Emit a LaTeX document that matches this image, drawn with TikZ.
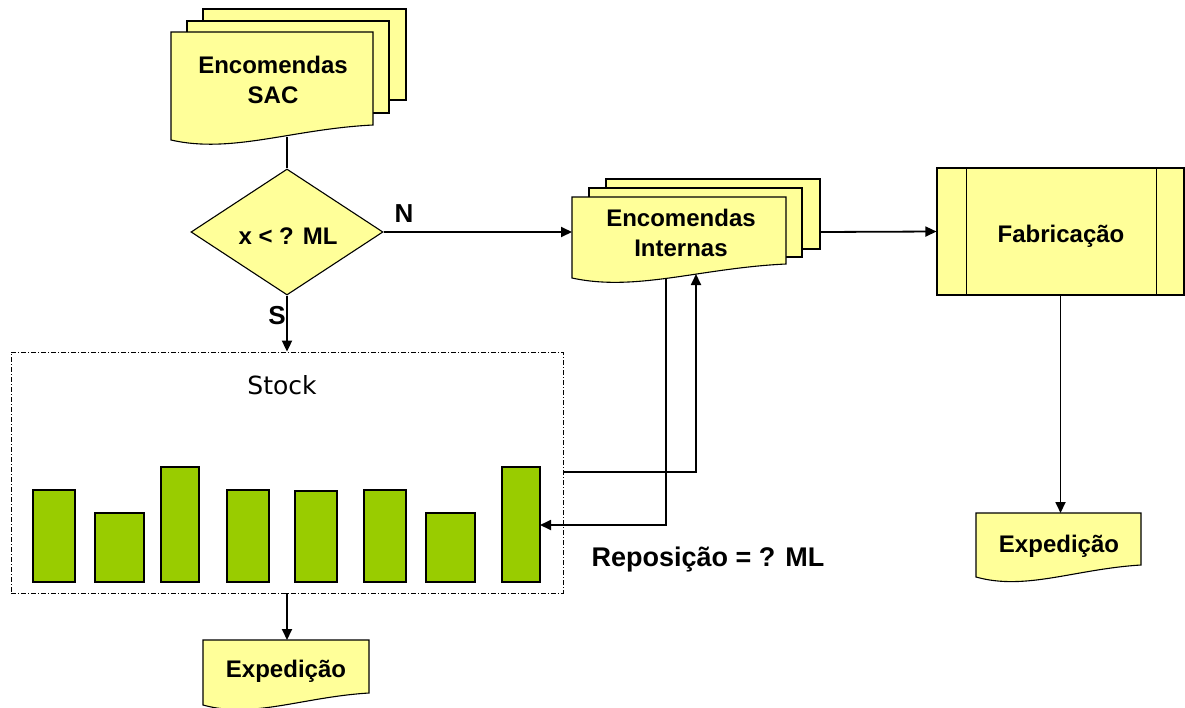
\documentclass[tikz,border=0pt]{standalone}
\usepackage{fontspec}
\setmainfont{Liberation Sans}
\newfontfamily\stockfont{DejaVu Sans}
\usetikzlibrary{arrows.meta,shapes.geometric}
\definecolor{docyellow}{RGB}{255,255,153}
\definecolor{bargreen}{RGB}{153,204,0}
\newcommand{\drawdoc}[5]{%
  \filldraw[docshape] (#1,#4) -- (#1,#2) -- (#3,#2) -- (#3,#5)
    .. controls ({#1+0.6*(#3-#1)},{#5+4}) and ({#1+0.3*(#3-#1)},{#4+14}) .. (#1,#4) -- cycle;
}
\begin{document}
\begin{tikzpicture}[x=1pt,y=-1pt,
  >={Triangle[length=11pt,width=10pt]},
  docshape/.style={fill=docyellow,draw=black,line width=1.1pt},
  conn/.style={line width=1.8pt},
  lbl/.style={font=\bfseries\fontsize{24}{30}\selectfont,align=center},
  bar/.style={fill=bargreen,draw=black,line width=1.2pt}]
\useasboundingbox (0,0) rectangle (1185,707);

% Encomendas SAC (multi-document)
\filldraw[docshape] (203,9) rectangle (406,100);
\filldraw[docshape] (187,21) rectangle (389,113);
\drawdoc{171}{32}{373}{140}{125}
\node[lbl] (sac) at (273,80) {Encomendas\\SAC};

% Encomendas Internas (multi-document)
\filldraw[docshape] (606,179) rectangle (820,249);
\filldraw[docshape] (589,188) rectangle (802,257);
\drawdoc{572}{197}{786}{278}{264}
\node[lbl] (internas) at (681,233) {Encomendas\\Internas};

% Expedicao documents
\drawdoc{976}{513}{1141}{577}{565}
\node[lbl] (exp1) at (1059,546) {Expedição};
\drawdoc{203}{640}{369}{705}{693}
\node[lbl] (exp2) at (286,671) {Expedição};

% Decision
\node[diamond,draw,fill=docyellow,line width=1.1pt,minimum width=192pt,minimum height=126pt,inner sep=0pt,lbl] (dec) at (287,232) {};
\node[lbl] (declbl) at (288,236) {x < ? ML};

% Fabricacao
\node[draw,fill=docyellow,line width=1.1pt,minimum width=247pt,minimum height=127pt,inner sep=0pt] (fab) at (1060.5,231.5) {};
\draw[line width=1pt] ([xshift=30pt]fab.north west) -- ([xshift=30pt]fab.south west);
\draw[line width=1pt] ([xshift=-28pt]fab.north east) -- ([xshift=-28pt]fab.south east);
\node[lbl] (fablbl) at (1061,236) {Fabricação};

% Stock
\node[draw,line width=0.8pt,dash pattern=on 5pt off 2pt on 1pt off 2pt,minimum width=552pt,minimum height=241pt,inner sep=0pt] (stock) at (287,472.5) {};
\node[font=\stockfont\fontsize{25}{30}\selectfont] (stocklbl) at (282,385) {Stock};
\draw[bar] (33,582) rectangle (75,490);
\draw[bar] (95,582) rectangle (144,513);
\draw[bar] (161,582) rectangle (199,467);
\draw[bar] (227,582) rectangle (269,490);
\draw[bar] (295,582) rectangle (337,491);
\draw[bar] (364,582) rectangle (406,490);
\draw[bar] (426,582) rectangle (475,513);
\draw[bar] (502,582) rectangle (540,467);

% connector coordinates
\coordinate (sacout) at (287,137);
\coordinate (intin) at (572,232);
\coordinate (intout) at (820,232);
\coordinate (exp1top) at (1060.5,513);
\coordinate (exp2top) at (287,640);
\coordinate (stockout) at (563,472);
\coordinate (intbot) at (696,274);
\coordinate (intbot2) at (666,278.5);
\coordinate (stockin) at (540,525);

% connectors
\draw[conn] (sacout) -- (dec.north);
\draw[conn,->] (dec.east) -- (intin);
\draw[conn,->] (dec.south) -- (stock.north);
\draw[conn,->] (intout) -- (fab.west);
\draw[conn,->] (fab.south) -- (exp1top);
\draw[conn,->] (stock.south) -- (exp2top);
\draw[conn,->] (stockout) -| (intbot);
\draw[conn,->] (intbot2) |- (stockin);

% labels
\node[lbl,font=\bfseries\fontsize{26}{30}\selectfont] (nlbl) at (404,214) {N};
\node[lbl,font=\bfseries\fontsize{26}{30}\selectfont] (slbl) at (277,316) {S};
\node[lbl,font=\bfseries\fontsize{27}{32}\selectfont] (repo) at (708,560) {Reposição = ? ML};
\end{tikzpicture}
\end{document}
